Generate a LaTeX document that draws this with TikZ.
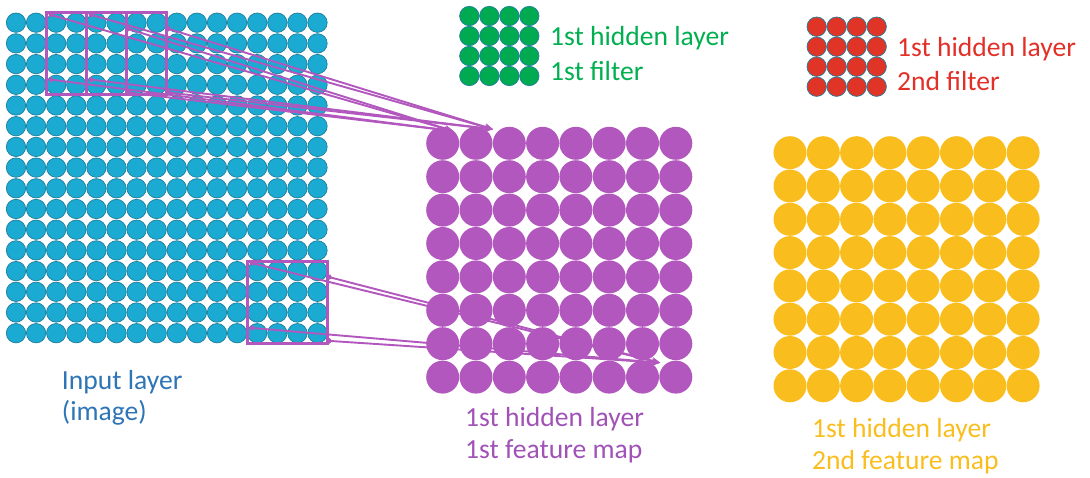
\documentclass[tikz,border=0pt]{standalone}
\usepackage{fontspec}
\setmainfont{Carlito}
\usetikzlibrary{arrows.meta,fit,calc}
\definecolor{inblue}{RGB}{27,171,210}
\definecolor{indark}{RGB}{32,126,158}
\definecolor{grn}{RGB}{0,170,80}
\definecolor{redf}{RGB}{224,52,38}
\definecolor{purp}{RGB}{177,87,189}
\definecolor{yel}{RGB}{249,190,30}
\definecolor{txtblue}{RGB}{46,117,182}
\definecolor{txtgreen}{RGB}{0,176,80}
\definecolor{txtred}{RGB}{226,48,40}
\definecolor{txtpurp}{RGB}{160,82,182}
\tikzset{
  smalldot/.style={circle, inner sep=0pt, minimum size=19.4pt, draw=indark, line width=0.7pt},
  bigdot/.style={circle, inner sep=0pt, minimum size=33pt},
  lab/.style={anchor=base west, inner sep=0pt, font=\fontsize{27.6}{32}\selectfont},
  win/.style={draw=purp, line width=3pt, inner sep=0pt},
  link/.style={draw=purp, line width=1.9pt, {Circle[length=5pt]}-{Stealth[length=8pt,width=7pt]}},
}
\begin{document}
\begin{tikzpicture}[x=1pt,y=-1pt]
\useasboundingbox (0,0) rectangle (1090,478);
% input layer
\foreach \i in {0,...,15} \foreach \j in {0,...,15}
  \node[smalldot, fill=inblue] (in-\i-\j) at ({16+20.1*\i},{22.7+20.7*\j}) {};
% first filter
\foreach \i in {0,...,3} \foreach \j in {0,...,3}
  \node[smalldot, fill=grn] (g-\i-\j) at ({469.3+20*\i},{16+20*\j}) {};
% second filter
\foreach \i in {0,...,3} \foreach \j in {0,...,3}
  \node[smalldot, fill=redf] (r-\i-\j) at ({816.7+20*\i},{26.7+20*\j}) {};
% feature maps
\foreach \i in {0,...,7} \foreach \j in {0,...,7}
  \node[bigdot, fill=purp] (h-\i-\j) at ({442.7+33.3*\i},{143.3+33.4*\j}) {};
\foreach \i in {0,...,7} \foreach \j in {0,...,7}
  \node[bigdot, fill=yel] (y-\i-\j) at ({790+33.3*\i},{152.7+33.3*\j}) {};
% windows
\node[win, fit=(in-2-0)(in-5-3)] (winA) {};
\node[win, fit=(in-4-0)(in-7-3)] (winB) {};
\node[win, fit=(in-12-12)(in-15-15)] (winC) {};
% start points
\foreach \w in {winA,winB,winC}{
  \coordinate (\w-1) at ($(\w.north west)+(4,3)$);
  \coordinate (\w-2) at ($(\w.north east)+(-2,17)$);
  \coordinate (\w-3) at ($(\w.south west)+(4,-17)$);
  \coordinate (\w-4) at ($(\w.south east)+(-2,-4)$);
}
% tips
\coordinate (tA) at ($(h-0-0.center)+(10.3,-12.3)$);
\coordinate (tB) at ($(h-1-0.center)+(17,-14)$);
\coordinate (tC) at ($(h-7-7.center)+(-15.7,-14.3)$);
\foreach \k in {1,...,4}{
  \draw[link] (winA-\k) -- (tA);
  \draw[link] (winB-\k) -- (tB);
  \draw[link] (winC-\k) -- (tC);
}
% labels
\node[lab, text=txtgreen] (g1) at (550,46) {1st hidden layer};
\node[lab, text=txtgreen] (g2) at (550,81) {1st filter};
\node[lab, text=txtred] (r1) at (897,56.7) {1st hidden layer};
\node[lab, text=txtred] (r2) at (897,90.7) {2nd filter};
\node[lab, text=txtblue] (i1) at (61.7,389) {Input layer};
\node[lab, text=txtblue] (i2) at (61.7,420) {(image)};
\node[lab, text=txtpurp] (p1) at (465,426) {1st hidden layer};
\node[lab, text=txtpurp] (p2) at (465,458) {1st feature map};
\node[lab, text=yel] (y1) at (812,437) {1st hidden layer};
\node[lab, text=yel] (y2) at (812,469) {2nd feature map};
\end{tikzpicture}
\end{document}
